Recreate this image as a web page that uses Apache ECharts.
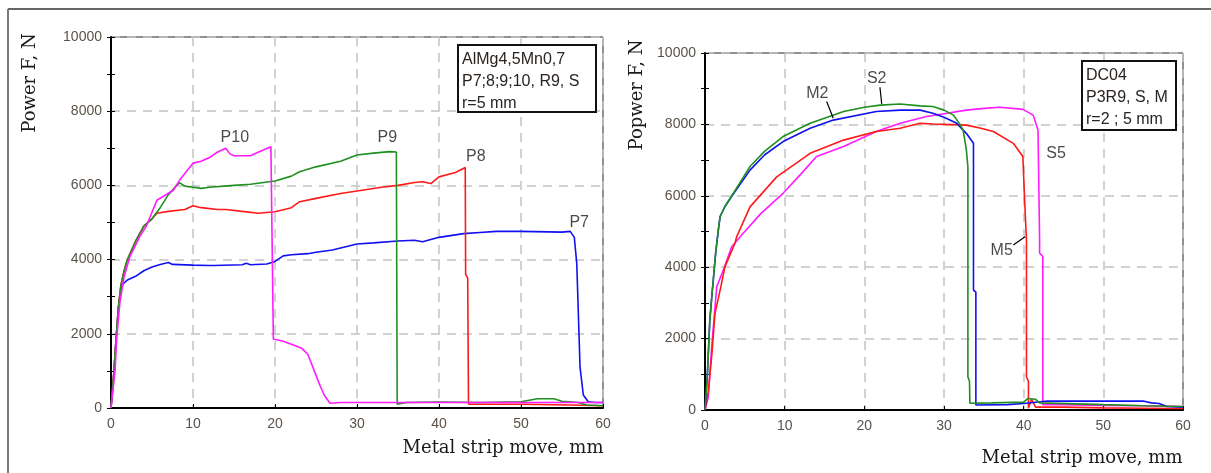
<!DOCTYPE html>
<html>
<head>
<meta charset="utf-8">
<script src="https://cdn.jsdelivr.net/npm/echarts@6/dist/echarts.min.js"></script>
<style>html,body{margin:0;padding:0;background:#fff;}#c{width:1211px;height:473px;}</style>
</head>
<body>
<div id="c"></div>
<script>
// ---------- Left chart data (x: mm, y: N) ----------
const P7 = [[0,0],[0.3,800],[0.6,1800],[0.9,2700],[1.2,3200],[1.5,3350],[2,3450],[3,3550],[4,3700],[5,3800],[6,3870],[7,3920],[7.5,3870],[10,3850],[12,3840],[12.2,3800],[12.5,3840],[16,3860],[16.5,3900],[17,3860],[19,3880],[20,3950],[21,4100],[22,4130],[24,4160],[25,4200],[27,4260],[30,4420],[32,4450],[35,4500],[37,4520],[38,4480],[40,4600],[43,4700],[45,4730],[47,4760],[50,4760],[55,4740],[56,4760],[56.5,4600],[56.8,3900],[57.0,2500],[57.2,1100],[57.6,350],[58.2,170],[59,150],[60,150]];
const P8 = [[0,0],[0.3,800],[0.6,1800],[0.9,2700],[1.2,3300],[1.6,3700],[2,4000],[3,4500],[4,4900],[5,5100],[5.6,5250],[7,5300],[9,5350],[10,5450],[11,5400],[13,5350],[14,5350],[16,5300],[18,5250],[20,5290],[22,5400],[23,5560],[25,5650],[28,5780],[30,5850],[33,5950],[35,6000],[37,6080],[38,6100],[39,6050],[40,6230],[42,6350],[43.2,6480],[43.25,3600],[43.5,3500],[43.6,100],[50,100],[56,80],[60,60]];
const P9 = [[0,0],[0.3,800],[0.6,1800],[0.9,2700],[1.2,3300],[1.6,3700],[2,4000],[3,4500],[4,4900],[5,5100],[6,5400],[7,5750],[8,6000],[8.4,6070],[9,5980],[10,5950],[11,5920],[12,5950],[15,6000],[17,6030],[20,6120],[22,6250],[23,6370],[25,6500],[28,6650],[30,6820],[32,6870],[34,6910],[34.8,6900],[34.9,100],[36,150],[40,160],[45,150],[50,170],[52,250],[54,250],[55,180],[57,150],[58,80],[60,60]];
const P10 = [[0,0],[0.5,1020],[0.7,1900],[1.1,2870],[1.6,3540],[2.3,4080],[3.5,4620],[4.3,4900],[5.6,5600],[7.6,5870],[8.4,6150],[10,6600],[11,6650],[12,6750],[13,6900],[14,7000],[14.5,6850],[15,6800],[17,6800],[18,6900],[19.5,7040],[19.7,7040],[19.8,1860],[21,1800],[22,1720],[23.2,1620],[24,1450],[24.9,940],[25.5,600],[26,350],[26.7,130],[28,150],[35,150],[45,150],[55,150],[60,150]];
const leftLabels = [['P10',15.1,7280],['P9',33.7,7280],['P8',44.5,6770],['P7',57.1,5010]];
const leftInfo = ['AlMg4,5Mn0,7','P7;8;9;10, R9, S','r=5 mm'];

// ---------- Right chart data ----------
const S2 = [[0,0],[0.3,1000],[0.6,2500],[0.9,3300],[1.04,3640],[1.34,4400],[1.67,5040],[1.9,5420],[2.5,5700],[3.55,6070],[5.65,6820],[7.5,7250],[9.8,7660],[13.2,8030],[17.4,8360],[20,8480],[22,8540],[24.5,8570],[27,8520],[28.6,8500],[30,8400],[31.2,8260],[32,8000],[32.4,7840],[32.8,7300],[33,6810],[33,930],[33.2,800],[33.25,190],[36,200],[40,220],[40.5,320],[41.5,300],[42,200],[50,150],[55,120],[60,100]];
const M2 = [[0,0],[0.3,1000],[0.6,2500],[0.9,3300],[1.04,3640],[1.34,4400],[1.67,5040],[1.9,5420],[2.5,5700],[3.55,6050],[5.65,6720],[7.5,7150],[9.8,7520],[13.2,7890],[16.1,8120],[21.5,8360],[24.5,8400],[27,8400],[28.6,8310],[30,8200],[31.6,8030],[32.8,7750],[33.7,7470],[33.7,3360],[34,3300],[34,140],[38,150],[40,180],[43,250],[50,250],[55,250],[56,200],[57,180],[58,100],[60,80]];
const M5 = [[0,0],[0.4,500],[0.84,1500],[1.25,2700],[1.9,3360],[2.5,4010],[3.76,4670],[3.97,4850],[5.65,5690],[9,6530],[13.2,7190],[17.4,7560],[21.5,7800],[24.5,7890],[27,8030],[28.6,8010],[30,8000],[32.8,7980],[34.5,7900],[36.2,7800],[38.7,7470],[39.9,7100],[40.1,5970],[40.35,4760],[40.35,930],[40.6,800],[40.6,50],[41,300],[41.5,80],[45,80],[50,60],[55,50],[60,40]];
const S5 = [[0,0],[0.42,370],[0.84,1770],[1.47,3450],[2.3,3920],[3.35,4570],[4.8,4950],[7,5500],[9.8,6070],[12,6600],[14,7100],[17.4,7380],[21.5,7800],[24.5,8030],[27.8,8220],[30,8300],[32.8,8400],[35,8450],[37,8480],[39.9,8420],[41.2,8260],[41.8,7840],[42,4760],[42,4400],[42.4,4300],[42.4,150],[45,150],[50,130],[55,120],[60,100]];
const rightLabels = [['M2',14.1,8850],['S2',21.55,9290],['S5',44.06,7190],['M5',37.24,4460]];
const rightLeaders = [[[15.27,8640],[16.1,8170]],[[21.96,9040],[22.18,8570]],[[38.7,4620],[40.17,4850]]];
const rightInfo = ['DC04','P3R9, S, M','r=2 ; 5 mm'];

const xTicks = [0,10,20,30,40,50,60];
const yTicks = [0,2000,4000,6000,8000,10000];

const GREEN = '#1f8f1f', BLUE = '#1010f0', RED = '#ff1a1a', MAG = '#ff1aff';
const tickFont = {fontFamily:'Arial, "Liberation Sans"', fontSize:14, color:'#5a5248', formatter:(v)=>String(v)};

function xAx(gi){
  return {gridIndex:gi, type:'value', min:xTicks[0], max:xTicks[xTicks.length-1], interval:10,
    axisLine:{show:true, onZero:false, lineStyle:{color:'#000', width:2}},
    axisTick:{show:true, inside:true, length:4, lineStyle:{color:'#000'}},
    axisLabel:Object.assign({margin:9}, tickFont),
    splitLine:{show:true, lineStyle:{color:'#c4c4c4', type:[9,7], width:1.5}}};
}
function yAx(gi){
  return {gridIndex:gi, type:'value', min:yTicks[0], max:yTicks[yTicks.length-1], interval:2000,
    axisLine:{show:true, onZero:false, lineStyle:{color:'#000', width:2}},
    axisTick:{show:true, inside:true, length:4, lineStyle:{color:'#000'}},
    minorTick:{show:true, splitNumber:2, length:4, lineStyle:{color:'#000'}},
    axisLabel:Object.assign({margin:9}, tickFont),
    splitLine:{show:true, lineStyle:{color:'#c4c4c4', type:[9,7], width:1.5}}};
}
function yAxRight(gi){
  return {gridIndex:gi, type:'value', position:'right', min:0, max:10000, interval:2000,
    axisLine:{show:false}, axisLabel:{show:false}, splitLine:{show:false},
    axisTick:{show:true, inside:true, length:4, lineStyle:{color:'#000'}},
    minorTick:{show:true, splitNumber:2, length:4, lineStyle:{color:'#000'}}};
}
function curve(data, color, xi, yi){
  return {type:'line', data:data, xAxisIndex:xi, yAxisIndex:yi, showSymbol:false, symbol:'none',
    lineStyle:{color:color, width:1.6}, animation:false, z:3};
}
function labels(arr, xi, yi){
  return {type:'scatter', xAxisIndex:xi, yAxisIndex:yi, symbolSize:0, animation:false, z:5,
    data:arr.map(a=>({name:a[0], value:[a[1],a[2]]})),
    label:{show:true, position:'inside', formatter:'{b}', fontFamily:'Arial, "Liberation Sans"', fontSize:16, color:'#1a1a1a'}};
}
function infoBox(x,y,w,h,lines,fs){
  return {type:'group', children:[
    {type:'rect', shape:{x:x,y:y,width:w,height:h}, style:{fill:'#fff', stroke:'#111', lineWidth:2}, z:10},
    {type:'text', x:x+4, y:y+4, z:11, style:{text:lines.join('\n'), font:fs+'px Arial, "Liberation Sans"', lineHeight:22, fill:'#2a2420', textVerticalAlign:'top'}}
  ]};
}

const series = [
  curve(P7, BLUE, 0, 0), curve(P8, RED, 0, 0), curve(P9, GREEN, 0, 0), curve(P10, MAG, 0, 0),
  labels(leftLabels, 0, 0),
  curve(S5, MAG, 1, 2), curve(M5, RED, 1, 2), curve(M2, BLUE, 1, 2), curve(S2, GREEN, 1, 2),
  labels(rightLabels, 1, 2)
];
rightLeaders.forEach(l=>series.push({type:'line', data:l, xAxisIndex:1, yAxisIndex:2, symbol:'none',
  lineStyle:{color:'#000', width:1.2}, animation:false, z:4}));

const chart = echarts.init(document.getElementById('c'), null, {renderer:'canvas'});
chart.setOption({
  backgroundColor:'#fff',
  animation:false,
  grid:[
    {left:111, top:37, width:492, height:371, show:true, borderColor:'#222', borderWidth:1, backgroundColor:'transparent'},
    {left:705, top:53, width:478, height:357, show:true, borderColor:'#222', borderWidth:1, backgroundColor:'transparent'}
  ],
  xAxis:[xAx(0), xAx(1)],
  yAxis:[yAx(0), yAxRight(0), yAx(1), yAxRight(1)],
  series:series,
  graphic:[
    {type:'line', shape:{x1:8,y1:9,x2:1211,y2:9}, style:{stroke:'#333', lineWidth:1.5}},
    {type:'line', shape:{x1:8,y1:9,x2:8,y2:473}, style:{stroke:'#777', lineWidth:2}},
    infoBox(458,45,138,67,leftInfo,16),
    infoBox(1082,61,94,69,rightInfo,16),
    {type:'text', x:30, y:83, rotation:Math.PI/2, style:{text:'Power F, N', font:'18px "DejaVu Serif"', fill:'#1a1a1a', textAlign:'center', textVerticalAlign:'middle'}},
    {type:'text', x:637, y:95, rotation:Math.PI/2, style:{text:'Popwer F, N', font:'18px "DejaVu Serif"', fill:'#1a1a1a', textAlign:'center', textVerticalAlign:'middle'}},
    {type:'text', x:503, y:448, style:{text:'Metal strip move, mm', font:'18px "DejaVu Serif"', fill:'#1a1a1a', textAlign:'center', textVerticalAlign:'middle'}},
    {type:'text', x:1082, y:458, style:{text:'Metal strip move, mm', font:'18px "DejaVu Serif"', fill:'#1a1a1a', textAlign:'center', textVerticalAlign:'middle'}}
  ]
});
</script>
</body>
</html>
